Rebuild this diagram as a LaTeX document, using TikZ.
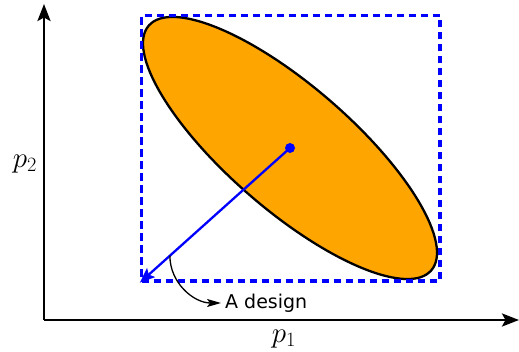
\RequirePackage{fix-cm}
\documentclass[tikz,border=0pt]{standalone}
\usepackage{fontspec}
\newfontfamily\labelfont{DejaVu Sans}
\usetikzlibrary{arrows.meta}
\definecolor{fillorange}{RGB}{255,165,0}
\tikzset{
  axis/.style={line width=2.7pt,-{Stealth[length=17pt,width=13pt,inset=3.5pt]}},
  boxstyle/.style={draw=blue,line width=3.3pt,dash pattern=on 7.2pt off 4.8pt,inner sep=0pt},
  ellstyle/.style={draw=black,fill=fillorange,line width=2.3pt},
  bluearrow/.style={draw=blue,line width=2.3pt,-{Stealth[length=15pt,width=12pt,inset=3pt]}},
  designarrow/.style={draw=black,line width=1.3pt,-{Stealth[length=14pt,width=8pt,inset=3pt]}},
  dotstyle/.style={circle,fill=blue,inner sep=0pt,minimum size=10pt},
  mathlabel/.style={inner sep=0pt,font=\fontsize{29}{34}\selectfont},
  textlabel/.style={inner sep=4pt,font=\labelfont\fontsize{19}{23}\selectfont}
}
\begin{document}
\begin{tikzpicture}[x=1pt,y=-1pt]
\useasboundingbox (0,0) rectangle (519,352);
% axes
\coordinate (o) at (44,320);
\coordinate (ytop) at (44,4);
\coordinate (xend) at (519,320);
\draw[axis] (o) -- (ytop);
\draw[axis] (o) -- (xend);
\node[mathlabel] (p2) at (25,164) {$p_2$};
\node[mathlabel] (p1) at (284,339) {$p_1$};
% ellipse
\coordinate (c) at (290,148);
\draw[ellstyle] (c) ellipse [x radius=186.9, y radius=62, rotate=-40.9];
% dashed bounding box
\node[boxstyle,minimum width=298.5pt,minimum height=265.3pt] (box) at (290.75,148.35) {};
% center dot and arrow
\node[dotstyle] (cdot) at (c) {};
\draw[bluearrow] (c) -- coordinate[pos=0.8] (d) (box.south west);
% label
\node[textlabel,anchor=west] (lbl) at (221,303) {A design};
\draw[designarrow] (d) to[out=-90,in=180] (lbl.west);
\end{tikzpicture}
\end{document}
